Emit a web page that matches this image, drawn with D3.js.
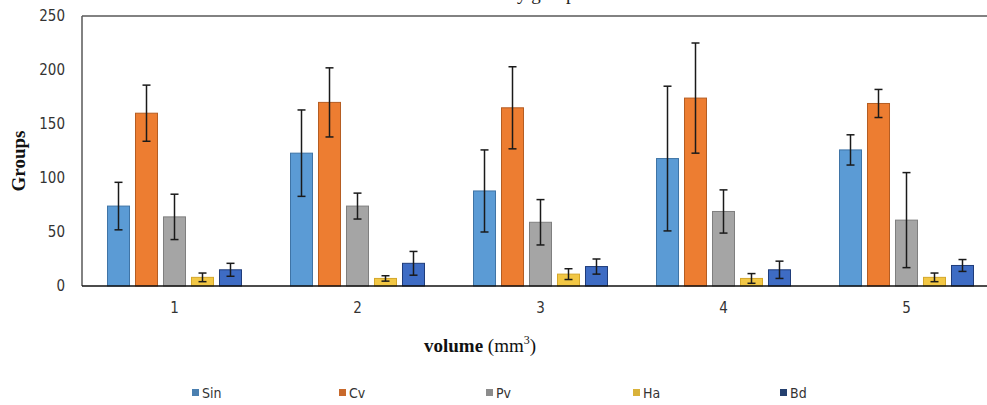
<!DOCTYPE html>
<html>
<head>
<meta charset="utf-8">
<script src="https://cdn.jsdelivr.net/npm/d3@7"></script>
<style>
  body { margin: 0; background: white; }
  svg { display: block; }
</style>
</head>
<body>
<div id="container"></div>
<script>
let w = 987;
let h = 405;

// DATA
let groups = ["1", "2", "3", "4", "5"];
let seriesNames = ["Sin", "Cv", "Pv", "Ha", "Bd"];
let sinMeans = [74, 123, 88, 118, 126];
let cvMeans = [160, 170, 165, 174, 169];
let pvMeans = [64, 74, 59, 69, 61];
let haMeans = [8, 7, 11, 7, 8];
let bdMeans = [15, 21, 18, 15, 19];
let sinErr = [22, 40, 38, 67, 14];
let cvErr = [26, 32, 38, 51, 13];
let pvErr = [21, 12, 21, 20, 44];
let haErr = [4, 2.5, 5, 4.5, 4];
let bdErr = [6, 11, 7, 8, 5.5];
let yTicks = [0, 50, 100, 150, 200, 250];

let means = [sinMeans, cvMeans, pvMeans, haMeans, bdMeans];
let errs = [sinErr, cvErr, pvErr, haErr, bdErr];

let fills = ["#5b9bd5", "#ed7d31", "#a5a5a5", "#f2c744", "#3e6cc4"];
let strokes = ["#3f74a6", "#b55d22", "#7f7f7f", "#d4a72a", "#1f3c7a"];
let legendFills = ["#4a7fb0", "#c8692c", "#8c8c8c", "#d9b23a", "#24406f"];

// flatten into one row per bar
let bars = [];
groups.forEach(function(g, gi){
  seriesNames.forEach(function(s, si){
    bars.push({group: g, series: s, si: si, value: means[si][gi], err: errs[si][gi]});
  });
});

let viz = d3.select("#container").append("svg")
  .attr("width", w)
  .attr("height", h)
  .style("background-color", "white");

// SCALES
let xScale = d3.scaleBand().domain(groups).range([83, 998]);
let xInner = d3.scaleBand().domain(seriesNames).range([0, 134]).paddingInner(0.214);
let yScale = d3.scaleLinear().domain([0, 250]).range([286, 16]);

function barX(d){
  return xScale(d.group) + xScale.bandwidth() / 2 - 67 + xInner(d.series);
}

// chart title, cut off by the top edge like in the source image
viz.append("text")
  .attr("x", 444)
  .attr("y", -0.5)
  .attr("font-family", "Liberation Serif, serif")
  .attr("font-size", 19)
  .attr("fill", "#222")
  .text("Volume by groups");

// frame lines
viz.append("line")
  .attr("x1", 82).attr("x2", w)
  .attr("y1", yScale(250)).attr("y2", yScale(250))
  .attr("stroke", "#595959").attr("stroke-width", 1.5);
viz.append("line")
  .attr("x1", 82).attr("x2", 82)
  .attr("y1", yScale(250)).attr("y2", yScale(0))
  .attr("stroke", "#595959").attr("stroke-width", 1.5);

// BARS
viz.selectAll(".bar").data(bars).enter()
  .append("rect")
  .attr("class", "bar")
  .attr("x", barX)
  .attr("width", xInner.bandwidth())
  .attr("y", function(d){ return yScale(d.value); })
  .attr("height", function(d){ return yScale(0) - yScale(d.value); })
  .attr("fill", function(d){ return fills[d.si]; })
  .attr("stroke", function(d){ return strokes[d.si]; })
  .attr("stroke-width", 1);

// ERROR BARS
let errG = viz.selectAll(".err").data(bars).enter()
  .append("g")
  .attr("class", "err")
  .attr("transform", function(d){
    return "translate(" + (barX(d) + xInner.bandwidth() / 2) + ",0)";
  })
  .attr("stroke", "#1a1a1a")
  .attr("stroke-width", 1.5);
errG.append("line")
  .attr("x1", 0).attr("x2", 0)
  .attr("y1", function(d){ return yScale(d.value + d.err); })
  .attr("y2", function(d){ return yScale(d.value - d.err); });
errG.append("line")
  .attr("x1", -4).attr("x2", 4)
  .attr("y1", function(d){ return yScale(d.value + d.err); })
  .attr("y2", function(d){ return yScale(d.value + d.err); });
errG.append("line")
  .attr("x1", -4).attr("x2", 4)
  .attr("y1", function(d){ return yScale(d.value - d.err); })
  .attr("y2", function(d){ return yScale(d.value - d.err); });

// baseline
viz.append("line")
  .attr("x1", 82).attr("x2", w)
  .attr("y1", yScale(0)).attr("y2", yScale(0))
  .attr("stroke", "#111").attr("stroke-width", 1.5);

// AXES
let tickFont = "Liberation Sans Narrow, DejaVu Sans Condensed, sans-serif";

let yAxis = d3.axisLeft(yScale).tickValues(yTicks).tickSize(0).tickPadding(17);
let yG = viz.append("g").attr("transform", "translate(82,0)").call(yAxis);
yG.select(".domain").remove();
yG.selectAll("text")
  .attr("font-family", tickFont)
  .attr("font-size", 15)
  .attr("fill", "#333");

let xAxis = d3.axisBottom(xScale).tickSize(0).tickPadding(16);
let xG = viz.append("g").attr("transform", "translate(0,286)").call(xAxis);
xG.select(".domain").remove();
xG.selectAll("text")
  .attr("font-family", tickFont)
  .attr("font-size", 15)
  .attr("fill", "#333");

// AXIS TITLES
viz.append("text")
  .attr("transform", "translate(25,161) rotate(-90)")
  .attr("text-anchor", "middle")
  .attr("font-family", "Liberation Serif, serif")
  .attr("font-weight", "bold")
  .attr("font-size", 19)
  .attr("fill", "#111")
  .text("Groups");

let xTitle = viz.append("text")
  .attr("x", 480)
  .attr("y", 352)
  .attr("text-anchor", "middle")
  .attr("font-family", "Liberation Serif, serif")
  .attr("font-size", 19)
  .attr("fill", "#111");
xTitle.append("tspan").attr("font-weight", "bold").text("volume ");
xTitle.append("tspan").text("(mm");
xTitle.append("tspan").attr("font-size", 12).attr("dy", -8).text("3");
xTitle.append("tspan").attr("dy", 8).text(")");

// LEGEND
let legendX = d3.scaleLinear().domain([0, seriesNames.length - 1]).range([192, 780]);
let legend = viz.selectAll(".legend").data(seriesNames).enter()
  .append("g")
  .attr("class", "legend")
  .attr("transform", function(d, i){ return "translate(" + legendX(i) + ",393)"; });
legend.append("rect")
  .attr("x", 0).attr("y", -4)
  .attr("width", 7).attr("height", 7)
  .attr("fill", function(d, i){ return legendFills[i]; });
legend.append("text")
  .attr("x", 10)
  .attr("y", 0)
  .attr("dy", "0.35em")
  .attr("font-family", tickFont)
  .attr("font-size", 14)
  .attr("fill", "#333")
  .text(function(d){ return d; });
</script>
</body>
</html>
